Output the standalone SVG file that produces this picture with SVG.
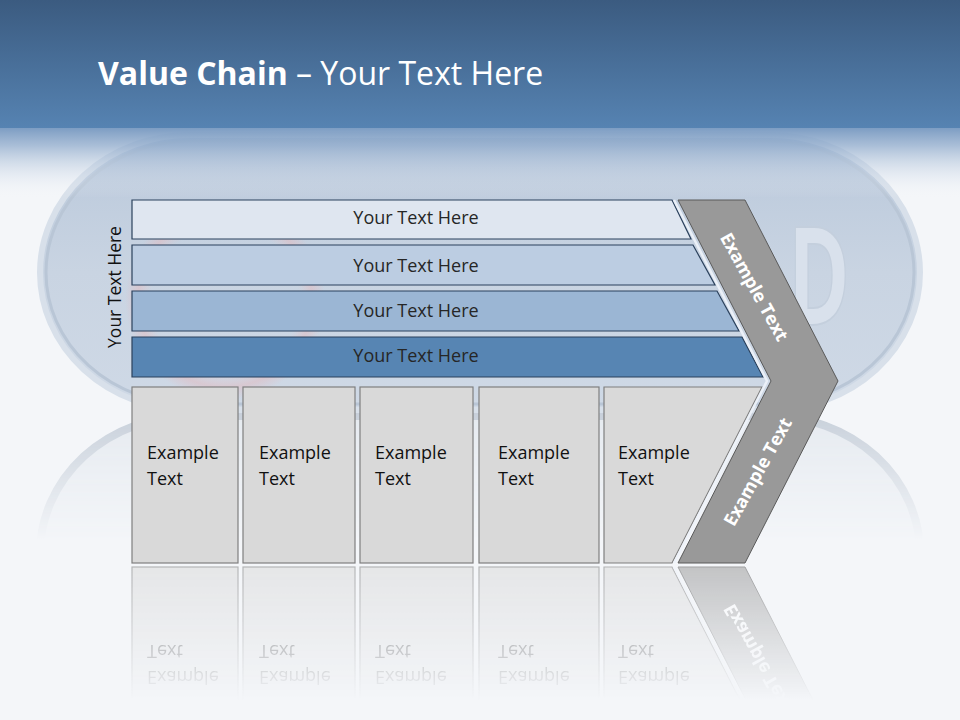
<svg xmlns="http://www.w3.org/2000/svg" xmlns:xlink="http://www.w3.org/1999/xlink" width="960" height="720" viewBox="0 0 960 720">
<style>
.t{font-family:"Open Sans","DejaVu Sans",sans-serif;}
.bar{stroke:#2b415c;stroke-width:1.2;}
.bt{font-size:18px;fill:#262626;text-anchor:middle;}
.box{fill:#d9d9d9;stroke:#7f7f7f;stroke-width:1.2;}
.xt{font-size:18px;fill:#111;}
.cv{font-size:18px;font-weight:bold;fill:#fff;text-anchor:middle;}
</style>
<defs>
<linearGradient id="hdr" x1="0" y1="0" x2="0" y2="1">
<stop offset="0" stop-color="#3b5b80"/><stop offset="1" stop-color="#5683b2"/>
</linearGradient>
<linearGradient id="fade" x1="0" y1="0" x2="0" y2="1">
<stop offset="0" stop-color="#7d9dc3" stop-opacity="1"/><stop offset="0.25" stop-color="#90abcc" stop-opacity="0.75"/><stop offset="1" stop-color="#f4f6f9" stop-opacity="0"/>
</linearGradient>
<linearGradient id="pill" x1="0" y1="0" x2="0" y2="1">
<stop offset="0" stop-color="#b9c8db"/><stop offset="0.5" stop-color="#c9d4e2"/><stop offset="1" stop-color="#cfd9e6"/>
</linearGradient>
<radialGradient id="pink" cx="0.5" cy="0.5" r="0.5">
<stop offset="0.74" stop-color="#e8c4c8" stop-opacity="0"/><stop offset="0.87" stop-color="#e3b9be" stop-opacity="0.5"/><stop offset="1" stop-color="#e6b8bd" stop-opacity="0"/>
</radialGradient>
<linearGradient id="rg" gradientUnits="userSpaceOnUse" x1="0" y1="565" x2="0" y2="700">
<stop offset="0" stop-color="#fff" stop-opacity="0.55"/><stop offset="1" stop-color="#fff" stop-opacity="0"/>
</linearGradient>
<mask id="rm" maskUnits="userSpaceOnUse" x="0" y="560" width="960" height="160">
<rect x="0" y="560" width="960" height="160" fill="url(#rg)"/>
</mask>
<linearGradient id="pr" gradientUnits="userSpaceOnUse" x1="0" y1="414" x2="0" y2="540">
<stop offset="0" stop-color="#fff" stop-opacity="0.9"/><stop offset="1" stop-color="#fff" stop-opacity="0"/>
</linearGradient>
<mask id="pm" maskUnits="userSpaceOnUse" x="0" y="400" width="960" height="160">
<rect x="0" y="400" width="960" height="160" fill="url(#pr)"/>
</mask>
</defs>

<g id="background">
<rect width="960" height="720" fill="#f4f6f9"/>
<g mask="url(#pm)">
<rect x="40" y="135" width="880" height="275" rx="150" ry="140" fill="#e4e9ef" stroke="#c3ccd7" stroke-width="8" transform="matrix(1,0,0,-1,0,826)"/>
</g>
<rect x="40" y="135" width="880" height="275" rx="150" ry="140" fill="url(#pill)" stroke="#d8e0ea" stroke-width="6"/>
<rect x="46" y="141" width="868" height="263" rx="145" ry="134" fill="none" stroke="#b9c6d6" stroke-width="3"/>
<circle cx="225" cy="300" r="100" fill="url(#pink)"/>
<text class="t" x="0" y="0" font-size="136" font-weight="bold" fill="#d9e1ec" stroke="#c4cfdd" stroke-width="2" text-anchor="middle" transform="translate(819,325) scale(0.62,1)">D</text>
<rect x="0" y="0" width="960" height="128" fill="url(#hdr)"/>
<rect x="0" y="128" width="960" height="70" fill="url(#fade)"/>
</g>

<g id="title">
<text class="t" x="98" y="85" font-size="32" fill="#fff"><tspan font-weight="bold">Value Chain</tspan> – Your Text Here</text>
</g>

<g id="side-label">
<text class="t" x="0" y="0" font-size="17.5" fill="#111" text-anchor="middle" transform="translate(121,287) rotate(-90)">Your Text Here</text>
</g>

<g id="bar1">
<polygon class="bar" points="132,200 672,200 691,239 132,239" fill="#dfe6f0"/>
<text class="t bt" x="416" y="224">Your Text Here</text>
</g>
<g id="bar2">
<polygon class="bar" points="132,245 693,245 715,285 132,285" fill="#bccde2"/>
<text class="t bt" x="416" y="272">Your Text Here</text>
</g>
<g id="bar3">
<polygon class="bar" points="132,291 717,291 739,331 132,331" fill="#9bb6d4"/>
<text class="t bt" x="416" y="317">Your Text Here</text>
</g>
<g id="bar4">
<polygon class="bar" points="132,337 742,337 763,377 132,377" fill="#5785b3"/>
<text class="t bt" x="416" y="362">Your Text Here</text>
</g>

<g id="boxes">
<g id="box1">
<rect class="box" x="132" y="387" width="106" height="176"/>
<text class="t xt" x="147" y="459">Example</text><text class="t xt" x="147" y="485">Text</text>
</g>
<g id="box2">
<rect class="box" x="243" y="387" width="112" height="176"/>
<text class="t xt" x="259" y="459">Example</text><text class="t xt" x="259" y="485">Text</text>
</g>
<g id="box3">
<rect class="box" x="360" y="387" width="113" height="176"/>
<text class="t xt" x="375" y="459">Example</text><text class="t xt" x="375" y="485">Text</text>
</g>
<g id="box4">
<rect class="box" x="479" y="387" width="120" height="176"/>
<text class="t xt" x="498" y="459">Example</text><text class="t xt" x="498" y="485">Text</text>
</g>
<g id="box5">
<polygon class="box" points="604,387 762,387 672,563 604,563"/>
<text class="t xt" x="618" y="459">Example</text><text class="t xt" x="618" y="485">Text</text>
</g>
</g>

<g id="chevron">
<polyline points="674,200 767,381 674,563" fill="none" stroke="#eef3f9" stroke-width="2.5" opacity="0.9"/>
<polygon points="678,200 745,200 838,381 745,563 678,563 771,381" fill="#999" stroke="#5a5a5a" stroke-width="1"/>
<text class="t cv" x="0" y="6" transform="translate(754,287) rotate(61)">Example Text</text>
<text class="t cv" x="0" y="6" transform="translate(758,472) rotate(-61)">Example Text</text>
</g>

<g id="reflection" mask="url(#rm)">
<g transform="translate(0,1130) scale(1,-1)">
<use xlink:href="#boxes"/>
<use xlink:href="#chevron"/>
</g>
</g>
</svg>
